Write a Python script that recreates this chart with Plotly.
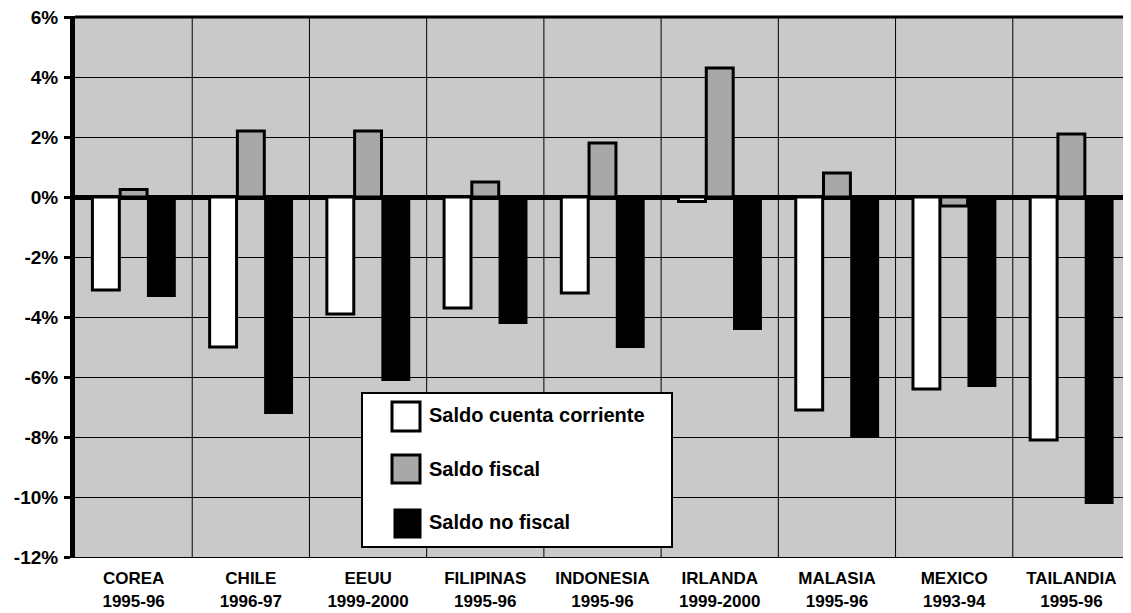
import plotly.graph_objects as go

categories = ["COREA<br>1995-96", "CHILE<br>1996-97", "EEUU<br>1999-2000", "FILIPINAS<br>1995-96",
              "INDONESIA<br>1995-96", "IRLANDA<br>1999-2000", "MALASIA<br>1995-96",
              "MEXICO<br>1993-94", "TAILANDIA<br>1995-96"]
cuenta_corriente = [-3.1, -5.0, -3.9, -3.7, -3.2, -0.15, -7.1, -6.4, -8.1]
saldo_fiscal = [0.25, 2.2, 2.2, 0.5, 1.8, 4.3, 0.8, -0.3, 2.1]
saldo_no_fiscal = [-3.3, -7.2, -6.1, -4.2, -5.0, -4.4, -8.0, -6.3, -10.2]
series_names = ["Saldo cuenta corriente", "Saldo fiscal", "Saldo no fiscal"]
y_ticks = [6, 4, 2, 0, -2, -4, -6, -8, -10, -12]
y_tick_labels = ["6%", "4%", "2%", "0%", "-2%", "-4%", "-6%", "-8%", "-10%", "-12%"]

FONT = "Liberation Sans, Arial"
fills = ["white", "#a8a8a8", "black"]

# page offset (browser body margin)
OFF = 8
W, H = 1131 - OFF, 613 - OFF
# plot area in page pixels
L, R, T, B = 75, 1130, 17, 557

def px(x):
    return (x - L) / (R - L)

def py(y):
    return (B - y) / (B - T)

fig = go.Figure()
for name, vals, fill, lw in zip(series_names, [cuenta_corriente, saldo_fiscal, saldo_no_fiscal],
                                fills, [3, 3, 2]):
    fig.add_trace(go.Bar(x=categories, y=vals, name=name,
                         marker=dict(color=fill, line=dict(color="black", width=lw))))

shapes = []
for i in range(len(categories) - 1):
    shapes.append(dict(type="line", xref="x", yref="paper", x0=i + 0.5, x1=i + 0.5, y0=0, y1=1,
                       line=dict(color="black", width=1), layer="below"))
# top frame line
shapes.append(dict(type="line", xref="paper", yref="paper", x0=0, x1=1, y0=1, y1=1,
                   line=dict(color="black", width=3)))

# manual legend
shapes.append(dict(type="rect", xref="paper", yref="paper",
                   x0=px(362), x1=px(672), y0=py(547), y1=py(393),
                   fillcolor="white", line=dict(color="black", width=2)))
sym_boxes = [(392, 420, 402, 431), (392, 420, 455, 483), (395, 420, 510, 537)]
text_y = [415, 469, 522]
annotations = []
for (x0, x1, y0, y1), fill, name, ty in zip(sym_boxes, fills, series_names, text_y):
    shapes.append(dict(type="rect", xref="paper", yref="paper",
                       x0=px(x0), x1=px(x1), y0=py(y1), y1=py(y0),
                       fillcolor=fill, line=dict(color="black", width=3)))
    annotations.append(dict(xref="paper", yref="paper", x=px(427), y=py(ty),
                            xanchor="left", yanchor="middle", showarrow=False,
                            text="<b>" + name + "</b>",
                            font=dict(size=20, family=FONT, color="black")))

fig.update_layout(
    width=W, height=H,
    margin=dict(l=L - OFF, r=W - (R - OFF), t=T - OFF, b=H - (B - OFF)),
    paper_bgcolor="white",
    plot_bgcolor="#c9c9c9",
    barmode="group",
    bargap=0.29,
    bargroupgap=0.03,
    font=dict(family=FONT, color="black"),
    shapes=shapes,
    annotations=annotations,
    showlegend=False,
)
fig.update_xaxes(
    automargin=False, ticklabeloverflow="allow",
    showgrid=False, showline=True, linecolor="black", linewidth=1, mirror=True,
    tickfont=dict(size=17, weight="bold"), ticks="", ticklabelstandoff=6,
)
fig.update_yaxes(
    automargin=False, ticklabeloverflow="allow",
    range=[-12, 6], tickvals=y_ticks, ticktext=y_tick_labels,
    showgrid=True, gridcolor="black", gridwidth=1,
    zeroline=True, zerolinecolor="black", zerolinewidth=5,
    showline=True, linecolor="black", linewidth=5, mirror=False,
    ticks="outside", ticklen=6, tickwidth=3, tickcolor="black",
    tickfont=dict(size=19, weight="bold"), ticklabelstandoff=2,
)
fig.write_html("out.html")
